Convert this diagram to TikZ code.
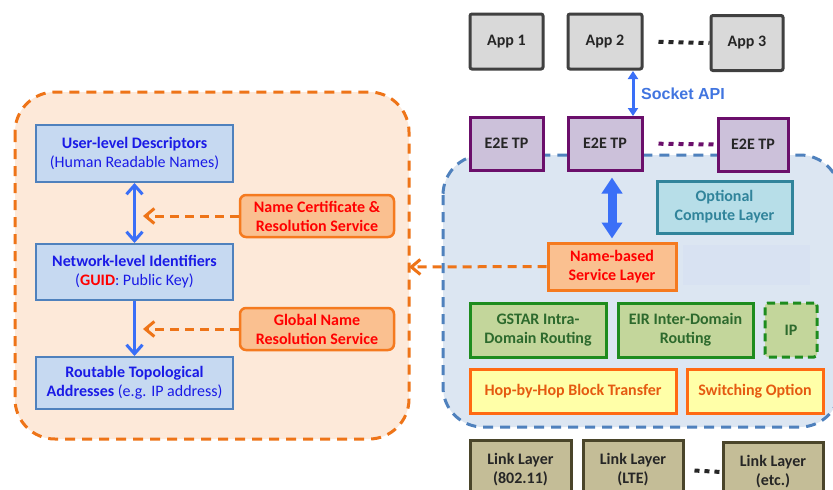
\documentclass[tikz,border=0pt]{standalone}
\usepackage{fontspec}
\setmainfont{Carlito}
\newfontfamily\arialfont{Liberation Sans}
\usetikzlibrary{arrows.meta}
\definecolor{leftfill}{HTML}{FDE9D9}
\definecolor{orangeline}{HTML}{EE7418}
\definecolor{bboxfill}{HTML}{C6D9F1}
\definecolor{bboxline}{HTML}{4F81BD}
\definecolor{btext}{HTML}{1A1AE6}
\definecolor{svcfill}{HTML}{FAC090}
\definecolor{svcline}{HTML}{F57A1F}
\definecolor{arrblue}{HTML}{3A6FF7}
\definecolor{socktext}{HTML}{4175E0}
\definecolor{regfill}{HTML}{DCE6F2}
\definecolor{regline}{HTML}{4F81BD}
\definecolor{optfill}{HTML}{B7DEE8}
\definecolor{optline}{HTML}{31849B}
\definecolor{grfill}{HTML}{C3D69B}
\definecolor{grline}{HTML}{1E8C1E}
\definecolor{grtext}{HTML}{2D6A2D}
\definecolor{yfill}{HTML}{FFFFA8}
\definecolor{yline}{HTML}{FF6A13}
\definecolor{ytext}{HTML}{E55A10}
\definecolor{lfill}{HTML}{C4BD97}
\definecolor{lline}{HTML}{4A452A}
\definecolor{appfill}{HTML}{D9D9D9}
\definecolor{appline}{HTML}{404040}
\definecolor{etfill}{HTML}{CCC1DA}
\definecolor{etline}{HTML}{6B0F6B}
\definecolor{darktext}{HTML}{262626}
\definecolor{faint}{HTML}{D8E2F2}
\begin{document}
\begin{tikzpicture}[x=1pt,y=-1pt,
  every node/.style={font=\fontsize{16}{19}\selectfont\bfseries, align=center, inner sep=0pt},
  bluebox/.style={draw=bboxline, fill=bboxfill, line width=2pt, text=btext, minimum width=197pt},
  svcbox/.style={draw=svcline, fill=svcfill, line width=2.5pt, text=red, rounded corners=6pt, minimum width=154pt, minimum height=42pt},
  appbox/.style={draw=appline, fill=appfill, line width=3pt, text=darktext, rounded corners=2pt, minimum height=55pt},
  etbox/.style={draw=etline, fill=etfill, line width=3pt, text=darktext, minimum height=53pt},
  grbox/.style={draw=grline, fill=grfill, line width=3pt, text=grtext, minimum height=54pt},
  ybox/.style={draw=yline, fill=yfill, line width=3pt, text=ytext, minimum height=44pt},
  lbox/.style={draw=lline, fill=lfill, line width=3pt, text=darktext, minimum width=100pt, minimum height=60pt},
  bluearrow/.style={draw=arrblue, line width=3pt},
  orangedash/.style={draw=orangeline, line width=3pt, dash pattern=on 9pt off 6pt},
  dotline/.style={line width=4pt, dash pattern=on 5pt off 5pt},
]
\clip (0,0) rectangle (833,490);
\fill[white] (0,0) rectangle (833,490);

% left region
\draw[fill=leftfill, draw=orangeline, line width=3pt, dash pattern=on 10pt off 7pt, rounded corners=40pt]
  (15,92) rectangle (409,439);

\node[bluebox, minimum height=57pt] (user) at (134.5,153.5)
  {User-level Descriptors\\\mdseries (Human Readable Names)};
\node[bluebox, minimum height=56pt] (net) at (134.5,272)
  {Network-level Identifiers\\\mdseries (\textcolor{red}{\bfseries GUID}: Public Key)};
\node[bluebox, minimum height=52pt] (rout) at (134.5,383)
  {Routable Topological\\Addresses {\mdseries (e.g. IP address)}};

\node[svcbox] (cert) at (317,216) {Name Certificate \&\\Resolution Service};
\node[svcbox] (gns) at (317,329) {Global Name\\Resolution Service};

\draw[bluearrow, {Straight Barb[length=9pt,width=16pt]}-{Straight Barb[length=9pt,width=16pt]}] (user.south) -- (net.north);
\draw[bluearrow, -{Straight Barb[length=9pt,width=16pt]}] (net.south) -- (rout.north);

\coordinate (c1) at (143,216);
\coordinate (c2) at (143,329);
\draw[orangedash, -{Straight Barb[length=9pt,width=15pt]}] (cert.west) -- (c1);
\draw[orangedash, -{Straight Barb[length=9pt,width=15pt]}] (gns.west) -- (c2);

% right region
\draw[fill=regfill, draw=regline, line width=3pt, dash pattern=on 10pt off 7pt, rounded corners=40pt]
  (443,155) rectangle (840,427);
\fill[faint] (683,245) rectangle (810,285);

\node[appbox, minimum width=73pt] (app1) at (506.5,41.5) {App 1};
\node[appbox, minimum width=74pt] (app2) at (605,41.5) {App 2};
\node[appbox, minimum width=72pt] (app3) at (747,43) {App 3};
\draw[dotline, draw=darktext, shorten <=15pt] (app2.east) -- (app3.west);

\node[etbox, minimum width=73pt] (e1) at (506.5,143.5) {E2E TP};
\node[etbox, minimum width=74pt] (e2) at (605,143.5) {E2E TP};
\node[etbox, minimum width=70pt] (e3) at (753,144.5) {E2E TP};
\draw[dotline, draw=etline, shorten <=15pt] (e2.east) -- (e3.west);

\coordinate (sa1) at (633,70);
\coordinate (sa2) at (633,117);
\draw[bluearrow, {Triangle[length=8pt,width=10pt]}-{Triangle[length=8pt,width=10pt]}, shorten <=1pt, shorten >=1pt] (sa1) -- (sa2);
\node[font=\arialfont\bfseries\fontsize{16}{19}\selectfont, text=socktext, anchor=west] (sock) at (641,94) {Socket API};

\node[draw=optline, fill=optfill, line width=3pt, text=optline, minimum width=135pt, minimum height=52pt] (opt) at (724.5,207) {Optional\\Compute Layer};

\node[draw=svcline, fill=svcfill, line width=3pt, text=red, minimum width=128pt, minimum height=47pt] (nbs) at (612,266.5) {Name-based\\Service Layer};

\draw[draw=arrblue, line width=9pt, {Triangle[length=16pt,width=20pt]}-{Triangle[length=16pt,width=20pt]}, shorten <=6pt, shorten >=3pt] (nbs.north |- e2.south) -- (nbs.north);

\coordinate (lefttip) at (409,267);
\draw[orangedash, -{Straight Barb[length=9pt,width=15pt]}] (nbs.west) -- (lefttip);

\node[grbox, minimum width=136pt] (gstar) at (538,330) {GSTAR Intra-\\Domain Routing};
\node[grbox, minimum width=135pt] (eir) at (685.5,330) {EIR Inter-Domain\\Routing};
\node[grbox, minimum width=52pt, dash pattern=on 8pt off 5pt, rounded corners=3pt] (ip) at (791,330) {IP};

\node[ybox, minimum width=206pt] (hop) at (573,391) {Hop-by-Hop Block Transfer};
\node[ybox, minimum width=136pt] (sw) at (755,391) {Switching Option};

\node[lbox, minimum width=101pt] (l1) at (520.5,470) {Link Layer\\(802.11)};
\node[lbox] (l2) at (633,470) {Link Layer\\(LTE)};
\node[lbox] (l3) at (773,472) {Link Layer\\(etc.)};
\draw[dotline, draw=darktext, shorten <=10pt] (l2.east) -- (l3.west);
\end{tikzpicture}
\end{document}
